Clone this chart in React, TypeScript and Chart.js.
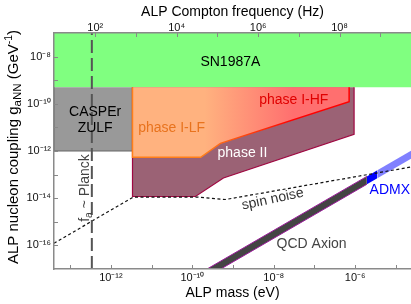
import React, { useEffect, useRef } from 'react';
import { Chart, registerables } from 'chart.js';

Chart.register(...registerables);

const FONT = "'Liberation Sans', Arial, Helvetica, sans-serif";

// ---- axis ranges and ticks ----
const massRange = [4e-14, 2.35e-5]; // eV
const couplingRange = [1e-17, 1e-7]; // GeV^-1
const hzPerEv = 2.418e14;
const massTicks = [1e-13, 1e-12, 1e-11, 1e-10, 1e-9, 1e-8, 1e-7, 1e-6, 1e-5];
const freqTicks = [1e2, 1e3, 1e4, 1e5, 1e6, 1e7, 1e8, 1e9];
const couplingTicks = [1e-16, 1e-15, 1e-14, 1e-13, 1e-12, 1e-11, 1e-10, 1e-9, 1e-8];

// ---- regions: [mass (eV), coupling (GeV^-1)] ----
const sn1987a = [[4e-14, 5e-10], [2.35e-5, 5e-10]];
const casperZulf = [[3.39e-12, 5e-10], [3.39e-12, 1e-12], [4e-14, 1e-12], [4e-14, 5e-10]];
const phaseI = [[3.39e-12, 5e-10], [3.39e-12, 5.4e-13], [1.6e-10, 5.4e-13], [4.9e-10, 2.1e-12], [7.1e-7, 1.23e-10], [7.1e-7, 5e-10]];
const phaseII = [[9.4e-7, 5e-10], [9.4e-7, 5.1e-12], [5.8e-10, 7.2e-14], [1.19e-10, 1.18e-14], [3.39e-12, 1.18e-14], [3.39e-12, 5e-10]];
const spinNoise = [[4e-14, 1.23e-16], [3.53e-12, 1.12e-14], [1.26e-10, 1.12e-14], [6.5e-10, 8.8e-15], [2.35e-5, 2.1e-13]];
const qcdUpper = [[1e-10, 4.35e-18], [1.94e-6, 8.4e-14]];
const qcdLower = [[1e-10, 2.0e-18], [1.94e-6, 3.9e-14]];
const admxUpper = [[1.94e-6, 8.4e-14], [3.5e-6, 1.52e-13]];
const admxLower = [[1.94e-6, 3.9e-14], [3.5e-6, 7.0e-14]];
const qcdHighUpper = [[3.5e-6, 1.52e-13], [1e-4, 4.35e-12]];
const qcdHighLower = [[3.5e-6, 7.0e-14], [1e-4, 2.0e-12]];
const planckLine = [[3.4e-13, 1e-17], [3.4e-13, 1e-7]];

const pts = (a: number[][]) => a.map(([x, y]) => ({ x, y }));

const SUP: Record<string, string> = {
  '-': '\u207B', '0': '\u2070', '1': '\u00B9', '2': '\u00B2', '3': '\u00B3', '4': '\u2074',
  '5': '\u2075', '6': '\u2076', '7': '\u2077', '8': '\u2078', '9': '\u2079',
};
const powLabel = (v: number) => {
  const e = Math.round(Math.log10(v));
  if (e % 2 !== 0) return '';
  return '10' + String(e).split('').map((c) => SUP[c]).join('');
};

const regionLabels = [
  { text: 'SN1987A', m: 8.6e-10, g: 5.9e-9, color: '#000000', rot: 0 },
  { text: 'CASPEr', m: 4.1e-13, g: 4.5e-11, color: '#000000', rot: 0 },
  { text: 'ZULF', m: 4.1e-13, g: 9.4e-12, color: '#000000', rot: 0 },
  { text: 'phase I-LF', m: 3.1e-11, g: 9.4e-12, color: '#E8731E', rot: 0 },
  { text: 'phase I-HF', m: 3.1e-8, g: 1.45e-10, color: '#E00000', rot: 0 },
  { text: 'phase II', m: 1.7e-9, g: 8.2e-13, color: '#FFFFFF', rot: 0 },
  { text: 'spin noise', m: 9.4e-9, g: 9.0e-15, color: '#333333', rot: -12 },
  { text: 'QCD Axion', m: 8.5e-8, g: 1.15e-16, color: '#444444', rot: 0 },
  { text: 'ADMX', m: 7.1e-6, g: 2.2e-14, color: '#0000FF', rot: 0 },
];

type Part = { t: string; size: number; dy?: number };
function drawParts(ctx: CanvasRenderingContext2D, parts: Part[]) {
  let total = 0;
  for (const p of parts) {
    ctx.font = `${p.size}px ${FONT}`;
    total += ctx.measureText(p.t).width;
  }
  let cx = -total / 2;
  ctx.textAlign = 'left';
  ctx.textBaseline = 'alphabetic';
  for (const p of parts) {
    ctx.font = `${p.size}px ${FONT}`;
    ctx.fillText(p.t, cx, p.dy || 0);
    cx += ctx.measureText(p.t).width;
  }
}

function hfGradient(chart: any, a: string, b: string) {
  const { ctx, chartArea, scales } = chart;
  if (!chartArea || !scales.x) return a;
  const x0 = scales.x.getPixelForValue(2e-10);
  const x1 = scales.x.getPixelForValue(3e-8);
  const g = ctx.createLinearGradient(x0, 0, x1, 0);
  g.addColorStop(0, a);
  g.addColorStop(1, b);
  return g;
}

const decorPlugin = {
  id: 'decor',
  afterDatasetsDraw(chart: any) {
    const { ctx, scales } = chart;
    const { x, x2, y } = scales;
    ctx.save();
    ctx.strokeStyle = '#888888';
    ctx.lineWidth = 1;
    ctx.beginPath();
    for (const v of massTicks) {
      const p = Math.round(x.getPixelForValue(v)) + 0.5;
      ctx.moveTo(p, y.bottom);
      ctx.lineTo(p, y.bottom - 4);
    }
    for (const v of freqTicks) {
      const p = Math.round(x2.getPixelForValue(v)) + 0.5;
      ctx.moveTo(p, y.top);
      ctx.lineTo(p, y.top + 4);
    }
    for (const v of couplingTicks) {
      const p = Math.round(y.getPixelForValue(v)) + 0.5;
      ctx.moveTo(x.left, p);
      ctx.lineTo(x.left + 4, p);
    }
    ctx.stroke();

    // region labels
    ctx.font = `14px ${FONT}`;
    ctx.textAlign = 'center';
    ctx.textBaseline = 'middle';
    for (const l of regionLabels) {
      const px = x.getPixelForValue(l.m);
      const py = y.getPixelForValue(l.g);
      ctx.save();
      ctx.translate(px, py);
      ctx.rotate((l.rot * Math.PI) / 180);
      ctx.fillStyle = l.color;
      ctx.fillText(l.text, 0, 0);
      ctx.restore();
    }

    // Planck label
    ctx.save();
    ctx.fillStyle = '#444444';
    ctx.translate(x.getPixelForValue(3.4e-13) - 3, y.getPixelForValue(2.7e-14));
    ctx.rotate(-Math.PI / 2);
    drawParts(ctx, [
      { t: 'f', size: 14 },
      { t: 'a', size: 10.5, dy: 3 },
      { t: ' ~ Planck', size: 14 },
    ]);
    ctx.restore();
    ctx.restore();
  },
  afterDraw(chart: any) {
    const { ctx, scales } = chart;
    ctx.save();
    ctx.fillStyle = '#000000';
    ctx.translate(18, (scales.y.top + scales.y.bottom) / 2 - 4);
    ctx.rotate(-Math.PI / 2);
    drawParts(ctx, [
      { t: 'ALP nucleon coupling g', size: 15 },
      { t: 'aNN', size: 11.5, dy: 3 },
      { t: ' (GeV', size: 15 },
      { t: '-1', size: 10.5, dy: -6 },
      { t: ')', size: 15 },
    ]);
    ctx.restore();
  },
};

const tickFont = { family: FONT, size: 11 };
const titleFont = { family: FONT, size: 14 };

export default function App() {
  const ref = useRef<HTMLCanvasElement>(null);
  useEffect(() => {
    if (!ref.current) return;
    const base = { pointRadius: 0, pointHoverRadius: 0, tension: 0, clip: 0 };
    const chart = new Chart(ref.current, {
      type: 'line',
      data: {
        datasets: [
          { ...base, label: 'SN1987A', data: pts(sn1987a), fill: 'end', backgroundColor: '#80FF80', borderWidth: 0, order: 20 },
          { ...base, label: 'CASPEr ZULF', data: pts(casperZulf), fill: 'shape', backgroundColor: '#999999', borderColor: '#666666', borderWidth: 1.2, order: 19 },
          { ...base, label: 'phase II', data: pts(phaseII), fill: 'shape', backgroundColor: '#9B6275', borderColor: '#A00842', borderWidth: 1.2, order: 18 },
          {
            ...base, label: 'phase I', data: pts(phaseI), fill: 'shape',
            backgroundColor: (c: any) => hfGradient(c.chart, '#FFB27F', '#FF6F6F'),
            borderColor: (c: any) => hfGradient(c.chart, '#FF7F1A', '#FF0000'),
            borderWidth: 1.5, order: 17,
          },
          { ...base, label: 'QCD upper', data: pts(qcdUpper), fill: '+1', backgroundColor: '#444444', borderColor: '#9A1A9A', borderWidth: 1, order: 12 },
          { ...base, label: 'QCD lower', data: pts(qcdLower), fill: false, borderColor: '#9A1A9A', borderWidth: 1, order: 11 },
          { ...base, label: 'ADMX upper', data: pts(admxUpper), fill: '+1', backgroundColor: '#0000FF', borderWidth: 0, order: 10 },
          { ...base, label: 'ADMX lower', data: pts(admxLower), fill: false, borderWidth: 0, order: 10 },
          { ...base, label: 'QCD high upper', data: pts(qcdHighUpper), fill: '+1', backgroundColor: '#8080FF', borderWidth: 0, order: 10 },
          { ...base, label: 'QCD high lower', data: pts(qcdHighLower), fill: false, borderWidth: 0, order: 10 },
          { ...base, label: 'spin noise', data: pts(spinNoise), fill: false, borderColor: '#111111', borderWidth: 1.2, borderDash: [3, 2.5], order: 3 },
          { ...base, label: 'Planck', data: pts(planckLine), fill: false, borderColor: '#555555', borderWidth: 2, borderDash: [13, 5], order: 1 },
        ],
      },
      options: {
        responsive: false,
        animation: false,
        events: [],
        layout: { padding: 0 },
        plugins: { legend: { display: false }, tooltip: { enabled: false }, title: { display: false } },
        scales: {
          x: {
            type: 'logarithmic',
            position: 'bottom',
            min: massRange[0],
            max: massRange[1],
            afterBuildTicks: (s: any) => { s.ticks = massTicks.map((v) => ({ value: v })); },
            afterFit: (s: any) => { s.height = 35; },
            grid: { display: false, drawTicks: false },
            border: { display: true, color: '#8A8A8A', width: 1.5, z: 1 },
            ticks: { callback: (v: any) => powLabel(Number(v)), font: tickFont, color: '#111111', padding: 2, autoSkip: false, maxRotation: 0, minRotation: 0 },
            title: { display: true, text: 'ALP mass (eV)', font: titleFont, color: '#000000', padding: { top: 0, bottom: 2 } },
          },
          x2: {
            type: 'logarithmic',
            position: 'top',
            min: massRange[0] * hzPerEv,
            max: massRange[1] * hzPerEv,
            afterBuildTicks: (s: any) => { s.ticks = freqTicks.map((v) => ({ value: v })); },
            afterFit: (s: any) => { s.height = 33; },
            grid: { display: false, drawTicks: false },
            border: { display: true, color: '#8A8A8A', width: 1.5, z: 1 },
            ticks: { callback: (v: any) => powLabel(Number(v)), font: tickFont, color: '#111111', padding: -2, autoSkip: false, maxRotation: 0, minRotation: 0 },
            title: { display: true, text: 'ALP Compton frequency (Hz)', font: titleFont, color: '#000000', padding: { top: 3.5, bottom: 0 } },
          },
          y: {
            type: 'logarithmic',
            position: 'left',
            min: couplingRange[0],
            max: couplingRange[1],
            afterBuildTicks: (s: any) => { s.ticks = couplingTicks.map((v) => ({ value: v })); },
            afterFit: (s: any) => { s.width = 54; },
            grid: { display: false, drawTicks: false },
            border: { display: true, color: '#8A8A8A', width: 1.5, z: 1 },
            ticks: { callback: (v: any) => powLabel(Number(v)), font: tickFont, color: '#111111', padding: 3, autoSkip: false },
            title: { display: false },
          },
        },
      } as any,
      plugins: [decorPlugin],
    });
    return () => chart.destroy();
  }, []);
  return (
    <div style={{ position: 'absolute', left: 0, top: 0, width: 411, height: 304, background: '#ffffff' }}>
      <canvas ref={ref} width={411} height={304} style={{ display: 'block', width: 411, height: 304 }} />
    </div>
  );
}
